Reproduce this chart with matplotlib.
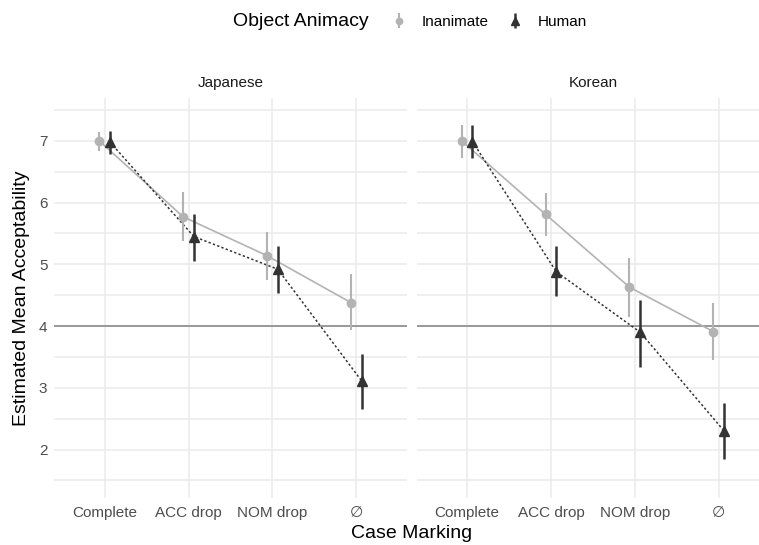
import numpy as np
import matplotlib
matplotlib.use("Agg")
import matplotlib.pyplot as plt

plt.rcParams['font.family'] = ['Liberation Sans', 'DejaVu Sans']

# data
conditions = ["Complete", "ACC drop", "NOM drop", "\u2205"]
languages = ["Japanese", "Korean"]

jp_inanimate = [7.00, 5.77, 5.14, 4.38]
jp_inanimate_lo = [6.83, 5.38, 4.75, 3.93]
jp_inanimate_hi = [7.15, 6.17, 5.53, 4.84]
jp_human = [6.98, 5.45, 4.92, 3.11]
jp_human_lo = [6.79, 5.06, 4.54, 2.65]
jp_human_hi = [7.16, 5.81, 5.29, 3.55]

ko_inanimate = [7.00, 5.81, 4.63, 3.91]
ko_inanimate_lo = [6.72, 5.46, 4.14, 3.45]
ko_inanimate_hi = [7.26, 6.15, 5.11, 4.37]
ko_human = [6.99, 4.88, 3.90, 2.30]
ko_human_lo = [6.72, 4.48, 3.34, 1.84]
ko_human_hi = [7.26, 5.29, 4.42, 2.75]

panels = {
    "Japanese": (jp_inanimate, jp_inanimate_lo, jp_inanimate_hi, jp_human, jp_human_lo, jp_human_hi),
    "Korean": (ko_inanimate, ko_inanimate_lo, ko_inanimate_hi, ko_human, ko_human_lo, ko_human_hi),
}

W, H = 759, 545
fig = plt.figure(figsize=(W / 100, H / 100), dpi=100)

inan_col = "#b3b3b3"
hum_col = "#333333"
grid_col = "#ebebeb"
dodge = 0.064

left_px = [54.3, 416.7]
panel_w = 352.4
top_px, bot_px = 98.3, 497.7

handles = None
for k, lang in enumerate(languages):
    ax = fig.add_axes([left_px[k] / W, 1 - bot_px / H, panel_w / W, (bot_px - top_px) / H])
    ax.set_axisbelow(True)
    inan, inan_lo, inan_hi, hum, hum_lo, hum_hi = panels[lang]
    x = np.arange(len(conditions))

    ax.set_xlim(-0.6, len(conditions) - 0.4)
    ax.set_ylim(1.22, 7.69)
    ax.set_yticks([2, 3, 4, 5, 6, 7])
    ax.set_yticks(np.arange(1.5, 8, 1), minor=True)
    ax.set_xticks(x)
    ax.set_xticklabels(conditions)
    ax.grid(True, which='major', color=grid_col, lw=1.1)
    ax.grid(True, which='minor', axis='y', color=grid_col, lw=1.1)
    ax.tick_params(which='both', length=0, labelsize=11, labelcolor="#4d4d4d", pad=5)
    ax.tick_params(axis='x', pad=6)
    if k > 0:
        ax.tick_params(axis='y', labelleft=False)
    for s in ax.spines.values():
        s.set_visible(False)

    ax.axhline(4, color="#8a8a8a", lw=1.2, zorder=1.8)

    xi = x - dodge
    xh = x + dodge
    ax.plot(xi, inan, color=inan_col, lw=1.2, zorder=2)
    ax.plot(xh, hum, color=hum_col, lw=1.1, ls=(0, (1.5, 1.5)), zorder=3)
    e1 = ax.errorbar(xi, inan, yerr=[np.array(inan) - np.array(inan_lo), np.array(inan_hi) - np.array(inan)],
                     fmt='o', color=inan_col, ms=6, elinewidth=1.5, capsize=0, zorder=4)
    e2 = ax.errorbar(xh, hum, yerr=[np.array(hum) - np.array(hum_lo), np.array(hum_hi) - np.array(hum)],
                     fmt='^', color=hum_col, ms=7, elinewidth=1.8, capsize=0, zorder=5)
    handles = [e1, e2]

    fig.text((left_px[k] + panel_w / 2) / W, 1 - 83 / H, lang, ha='center', va='center',
             fontsize=11, color="#1a1a1a")

fig.text(22 / W, 1 - 298 / H, "Estimated Mean Acceptability", rotation=90,
         ha='center', va='center', fontsize=14)
fig.text(411.7 / W, 1 - 534 / H, "Case Marking", ha='center', va='center', fontsize=14)

fig.text(233 / W, 1 - 22 / H, "Object Animacy", ha='left', va='center', fontsize=14)
fig.legend(handles, ["Inanimate", "Human"], loc='center left', bbox_to_anchor=(382 / W, 1 - 22 / H),
           ncol=2, frameon=False, fontsize=11, handlelength=1.2, handletextpad=0.9,
           columnspacing=1.1, borderpad=0, markerscale=0.75)

fig.savefig("out.png", dpi=100)
